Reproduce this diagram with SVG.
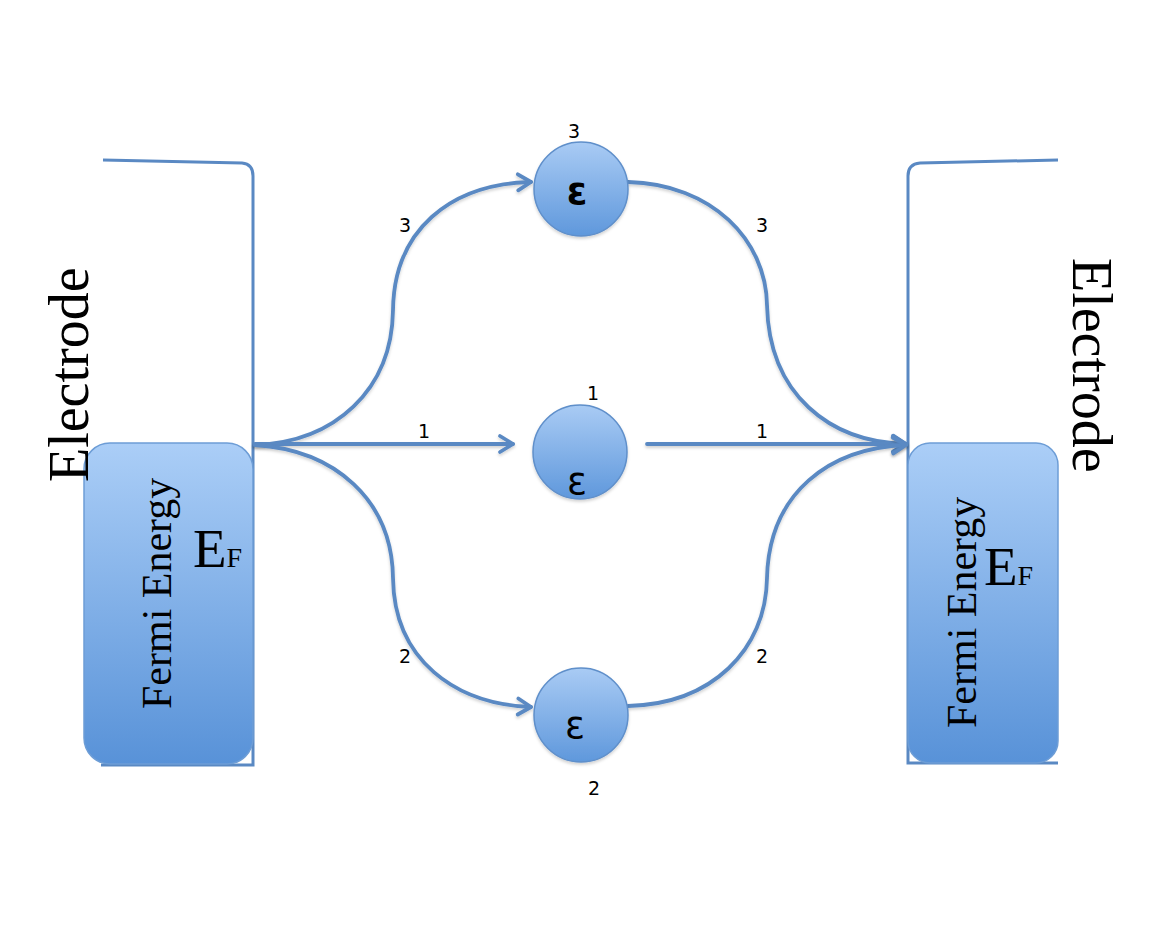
<svg xmlns="http://www.w3.org/2000/svg" width="1153" height="930" viewBox="0 0 1153 930">
  <style>
    .wire { fill: none; stroke: #5a89c3; stroke-width: 3.8; stroke-linecap: round; filter: url(#soft); }
    .rim { fill: none; stroke: #5a89c3; stroke-width: 3; }
    .well { fill: url(#wellFill); stroke: #6d9dd6; stroke-width: 1.5; }
    .dot { fill: url(#dotFill); stroke: #5f8fca; stroke-width: 1.5; filter: url(#soft); }
    .serif { font-family: "Liberation Serif", "Times New Roman", serif; fill: #000; }
    .sans { font-family: "DejaVu Sans", "Liberation Sans", sans-serif; fill: #000; }
    .num { font-family: "DejaVu Sans", "Liberation Sans", sans-serif; font-size: 19px; text-anchor: middle; fill: #000; }
  </style>
  <defs>
    <linearGradient id="wellFill" x1="0" y1="0" x2="0" y2="1">
      <stop offset="0" stop-color="#abcef7"/>
      <stop offset="1" stop-color="#5892d8"/>
    </linearGradient>
    <linearGradient id="dotFill" x1="0" y1="0" x2="0" y2="1">
      <stop offset="0" stop-color="#a9cbf4"/>
      <stop offset="1" stop-color="#5f98dc"/>
    </linearGradient>
    <!-- soft drop shadow; user-space region so flat lines keep it too -->
    <filter id="soft" filterUnits="userSpaceOnUse" x="0" y="0" width="1153" height="930">
      <feDropShadow dx="0" dy="2" stdDeviation="1.5" flood-color="#000" flood-opacity="0.18"/>
    </filter>
    <marker id="chev" markerUnits="userSpaceOnUse" markerWidth="22" markerHeight="22" viewBox="0 0 22 22" refX="19" refY="11" orient="auto">
      <path d="M6,3 L19,11 L6,19" fill="none" stroke="#5a89c3" stroke-width="3.8" stroke-linecap="round" stroke-linejoin="round"/>
    </marker>
  </defs>

  <rect width="1153" height="930" fill="#fff"/>

  <!-- left electrode -->
  <g id="electrode-left">
    <path class="rim" d="M103,160 L242,163 Q253,164 253,176 L253,765 L101,765"/>
    <rect class="well" x="84" y="443" width="169" height="321" rx="26"/>
    <text class="serif" font-size="56" transform="translate(88,482) rotate(-90)">Electrode</text>
    <text class="serif" font-size="42" transform="translate(171,709) rotate(-90)">Fermi Energy</text>
    <text class="serif" font-size="55" x="193" y="567">E<tspan font-size="28">F</tspan></text>
  </g>

  <!-- right electrode -->
  <g id="electrode-right">
    <path class="rim" d="M1058,160 L920,163 Q908,164 908,176 L908,763 L1058,763"/>
    <rect class="well" x="908" y="443" width="150" height="320" rx="22"/>
    <text class="serif" font-size="56" transform="translate(1073,258) rotate(90)">Electrode</text>
    <text class="serif" font-size="42" transform="translate(976,728) rotate(-90)">Fermi Energy</text>
    <text class="serif" font-size="55" x="984" y="585">E<tspan font-size="28">F</tspan></text>
  </g>

  <!-- transport paths -->
  <g id="connectors">
    <path class="wire" marker-end="url(#chev)" d="M255,445 C335,442 392,390 393,310 C394,230 450,184 531,182"/>
    <path class="wire" marker-end="url(#chev)" d="M255,444 L513,444"/>
    <path class="wire" marker-end="url(#chev)" d="M255,445 C335,450 392,500 393,578 C394,660 455,704 531,707"/>
    <path class="wire" marker-end="url(#chev)" d="M628,182 C712,184 766,240 767,305 C769,395 830,442 906,444"/>
    <path class="wire" marker-end="url(#chev)" d="M647,444 L906,444"/>
    <path class="wire" marker-end="url(#chev)" d="M628,706 C712,704 766,650 767,578 C769,492 830,448 906,445"/>
    <text class="num" x="405" y="232">3</text>
    <text class="num" x="762" y="232">3</text>
    <text class="num" x="424" y="438">1</text>
    <text class="num" x="762" y="438">1</text>
    <text class="num" x="405" y="663">2</text>
    <text class="num" x="762" y="663">2</text>
  </g>

  <!-- energy levels -->
  <g id="level-3">
    <circle class="dot" cx="581" cy="189" r="47"/>
    <text class="sans" font-size="37" font-weight="bold" x="577" y="204" text-anchor="middle">ε</text>
    <text class="num" x="574" y="138">3</text>
  </g>
  <g id="level-1">
    <circle class="dot" cx="580" cy="452" r="47"/>
    <text class="sans" font-size="37" x="577" y="494" text-anchor="middle">ε</text>
    <text class="num" x="593" y="400">1</text>
  </g>
  <g id="level-2">
    <circle class="dot" cx="581" cy="715" r="47"/>
    <text class="sans" font-size="37" x="575" y="738" text-anchor="middle">ε</text>
    <text class="num" x="594" y="795">2</text>
  </g>
</svg>
